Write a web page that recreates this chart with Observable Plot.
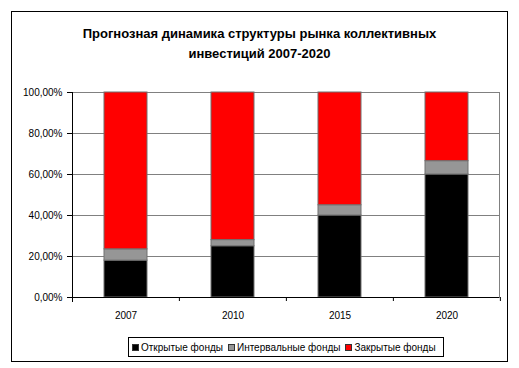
<!DOCTYPE html>
<html>
<head>
<meta charset="utf-8">
<script src="https://cdn.jsdelivr.net/npm/d3@7"></script>
<script src="https://cdn.jsdelivr.net/npm/@observablehq/plot@0.6"></script>
<style>
  body { margin: 0; background: #fff; font-family: "Liberation Sans", Arial, sans-serif; }
  #wrap { position: relative; width: 519px; height: 368px; overflow: hidden; }
  #border { position: absolute; left: 11px; top: 11px; width: 495px; height: 349px; border: 1px solid #000; box-sizing: content-box; }
  #title { position: absolute; left: 0; width: 519px; top: 24px; text-align: center; font-weight: bold; font-size: 13px; line-height: 20px; color: #000; }
  #chart { position: absolute; left: 0; top: 0; }
  #legend { position: absolute; left: 128px; top: 337px; box-sizing: border-box; width: 316px; height: 20px; border: 1px solid #000; font-size: 10px; white-space: nowrap; display: flex; align-items: center; justify-content: flex-start; padding-left: 3px; background: #fff; }
  .item { display: inline-flex; align-items: center; margin-right: 5px; }
  .sw { display: inline-block; width: 5px; height: 5px; border: 1px solid #333; margin-right: 2px; }
</style>
</head>
<body>
<div id="wrap">
  <div id="border"></div>
  <div id="title">Прогнозная динамика структуры рынка коллективных<br>инвестиций 2007-2020</div>
  <div id="chart"></div>
  <div id="legend"></div>
</div>
<script>
const years = ["2007", "2010", "2015", "2020"];
const seriesNames = ["Открытые фонды", "Интервальные фонды", "Закрытые фонды"];
const openFunds = [0.18, 0.25, 0.40, 0.60];
const intervalFunds = [0.055, 0.03, 0.05, 0.065];
const closedFunds = [0.765, 0.72, 0.55, 0.335];
const colors = ["#000000", "#969696", "#ff0000"];
const yTicks = [0, 0.2, 0.4, 0.6, 0.8, 1.0];

const seriesValues = [openFunds, intervalFunds, closedFunds];
const data = [];
seriesNames.forEach((s, si) => years.forEach((y, yi) => data.push({year: y, series: s, value: seriesValues[si][yi]})));

const W = 519, H = 368, mL = 72, mR = 20;
const step = (W - mL - mR) / years.length;

const plot = Plot.plot({
  width: W, height: H,
  marginLeft: mL, marginRight: mR, marginTop: 92, marginBottom: 71,
  style: {fontFamily: "'Liberation Sans', Arial, sans-serif", fontSize: "10px", color: "#000", background: "transparent"},
  x: {domain: years, paddingInner: 0.6, paddingOuter: 0.29, label: null},
  y: {domain: [0, 1], label: null},
  color: {domain: seriesNames, range: colors},
  marks: [
    Plot.gridY(yTicks, {stroke: "#808080", strokeOpacity: 1}),
    Plot.frame({stroke: "#808080"}),
    Plot.barY(data, Plot.stackY({x: "year", y: "value", fill: "series", order: seriesNames, stroke: "#707070", strokeWidth: 1})),
    Plot.ruleY([0], {stroke: "#000"}),
    Plot.frame({anchor: "left", stroke: "#000", insetBottom: -4}),
    Plot.ruleX(years, {x: d => d, y1: 0, y2: 0, insetBottom: -4, dx: step / 2, stroke: "#000"}),
    Plot.axisY(yTicks, {tickSize: 5, tickPadding: 5, tickFormat: d => (d * 100).toFixed(2).replace(".", ",") + "%"}),
    Plot.axisX({tickSize: 0, tickPadding: 14})
  ]
});
document.getElementById("chart").appendChild(plot);

const leg = document.getElementById("legend");
seriesNames.forEach((s, i) => {
  const span = document.createElement("span");
  span.className = "item";
  span.innerHTML = `<span class="sw" style="background:${colors[i]}"></span>${s}`;
  leg.appendChild(span);
});
</script>
</body>
</html>
